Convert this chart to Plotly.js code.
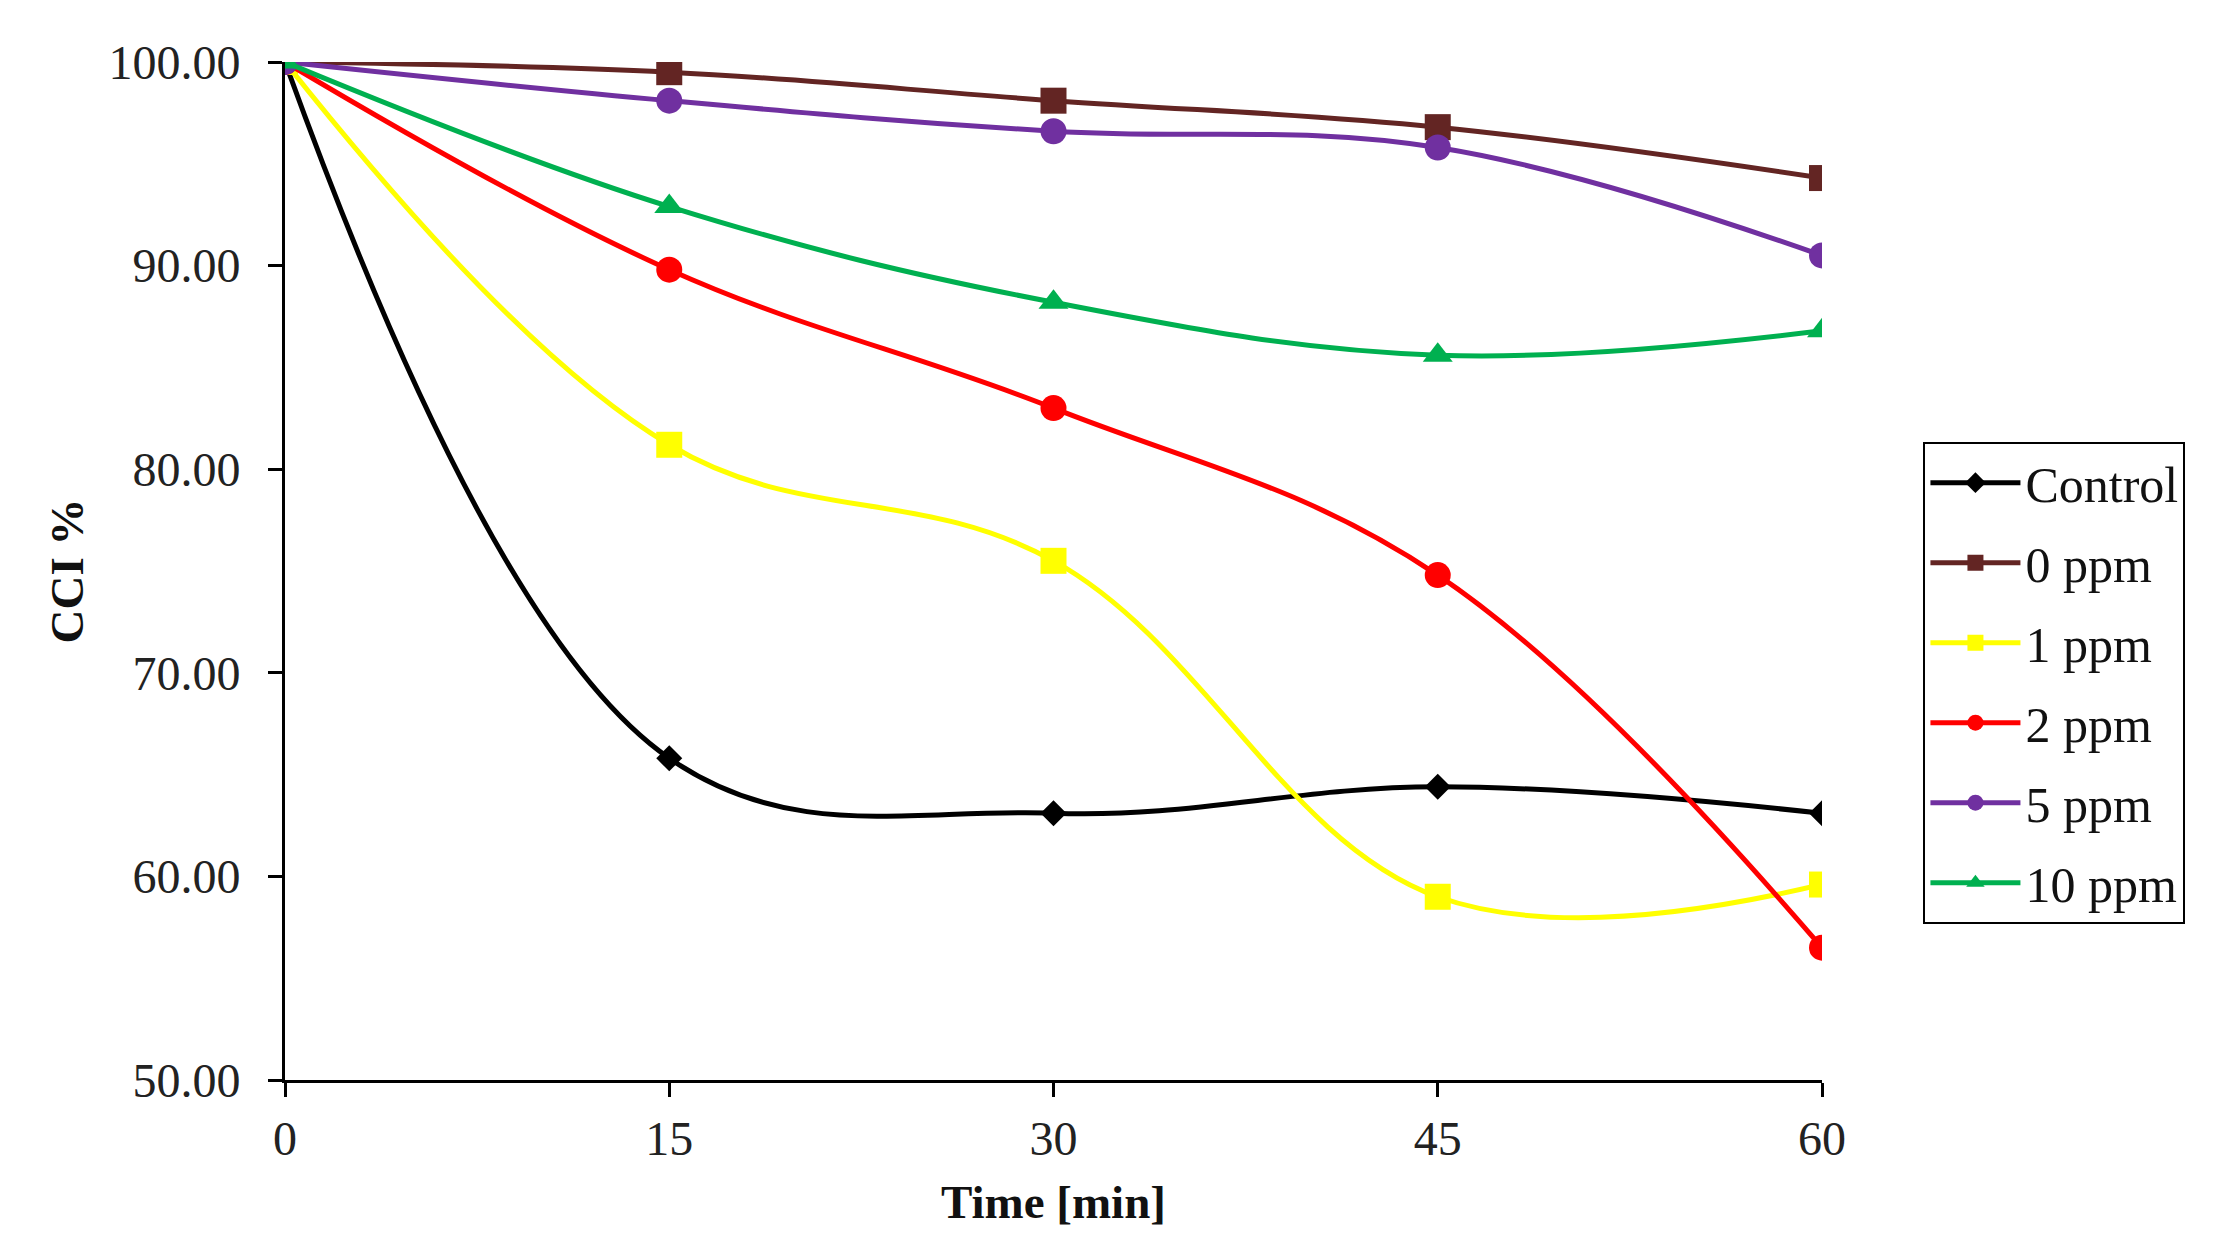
<!DOCTYPE html>
<html>
<head>
<meta charset="utf-8">
<script src="https://cdn.plot.ly/plotly-3.0.1.min.js"></script>
<style>
  html, body { margin: 0; padding: 0; background: #fff; }
  #chart-container { width: 2218px; height: 1255px; }
</style>
</head>
<body>
<div id="chart-container"></div>
<script>
const times = [0, 15, 30, 45, 60]
const seriesNames = ['Control', '0 ppm', '1 ppm', '2 ppm', '5 ppm', '10 ppm']
const control = [100, 65.8, 63.1, 64.4, 63.1]
const ppm0 = [100, 99.5, 98.1, 96.8, 94.3]
const ppm1 = [100, 81.2, 75.5, 59.0, 59.6]
const ppm2 = [100, 89.8, 83.0, 74.8, 56.5]
const ppm5 = [100, 98.1, 96.6, 95.8, 90.5]
const ppm10 = [100, 92.9, 88.2, 85.6, 86.8]
const yTicks = [50, 60, 70, 80, 90, 100]

const seriesValues = [control, ppm0, ppm1, ppm2, ppm5, ppm10]
const colors = ['#000000', '#632523', '#FFFF00', '#FF0000', '#7030A0', '#00B050']
const symbols = ['diamond', 'square', 'square', 'circle', 'circle', 'triangle-up']
const sizes = [20, 26, 26, 26, 26, 26]

function DrawChart() {
    const font = 'Liberation Serif, Times New Roman, serif'

    let data = seriesValues.map((vals, i) => ({
        x: times,
        y: vals,
        type: 'scatter',
        mode: 'lines+markers',
        name: seriesNames[i],
        legendgroup: 'g' + i,
        line: {color: colors[i], width: 5, shape: 'spline', smoothing: 1.1},
        marker: {color: colors[i], symbol: symbols[i], size: sizes[i]}
    }))

    let layout = {
        width: 2218,
        height: 1255,
        margin: {l: 285, r: 396, t: 62, b: 175},
        paper_bgcolor: '#fff',
        plot_bgcolor: '#fff',
        font: {family: font, color: '#222', size: 48},
        showlegend: true,
        legend: {
            x: 1.066, xanchor: 'left',
            y: 0.627, yanchor: 'top',
            bordercolor: '#000', borderwidth: 2,
            font: {family: font, size: 50, color: '#111'},
            itemwidth: 90,
            tracegroupgap: 12,
            traceorder: 'grouped'
        },
        xaxis: {
            range: [0, 60],
            tickvals: times,
            ticktext: times.map(String),
            showgrid: false,
            zeroline: false,
            showline: true,
            linecolor: '#000',
            linewidth: 3,
            ticks: 'outside',
            ticklen: 14,
            tickwidth: 3,
            tickcolor: '#000',
            tickfont: {size: 48},
            title: {text: '<b>Time [min]</b>', font: {size: 47, color: '#111'}, standoff: 22}
        },
        yaxis: {
            range: [50, 100],
            tickvals: yTicks,
            ticktext: yTicks.map(v => v.toFixed(2)),
            showgrid: false,
            zeroline: false,
            showline: true,
            linecolor: '#000',
            linewidth: 3,
            ticks: 'outside',
            ticklen: 14,
            tickwidth: 3,
            tickcolor: '#000',
            ticklabelstandoff: 18,
            tickfont: {size: 48},
            title: {text: '<b>CCI %</b>', font: {size: 47, color: '#111'}, standoff: 10}
        }
    };

    Plotly.newPlot('chart-container', data, layout, {displayModeBar: false});
}

DrawChart()
</script>
</body>
</html>
